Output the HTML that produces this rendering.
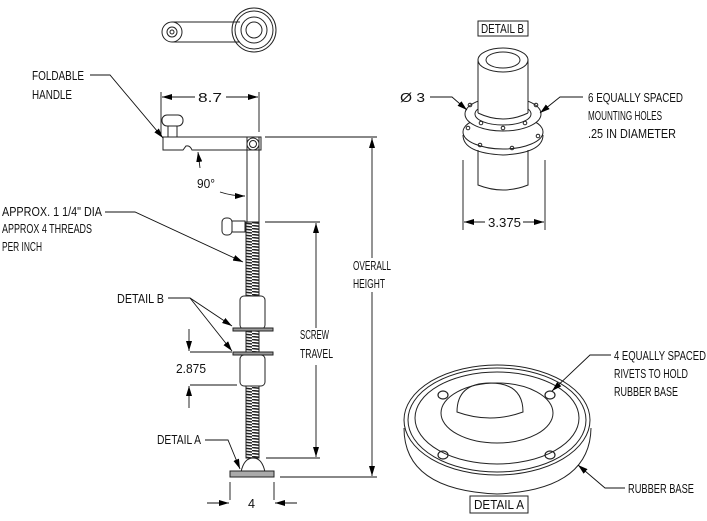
<!DOCTYPE html>
<html><head><meta charset="utf-8"><style>
html,body{margin:0;padding:0;background:#fff;}
svg{display:block;}
text{font-family:"Liberation Sans",sans-serif;font-size:13px;fill:#111;}
</style></head><body>
<svg width="707" height="521" viewBox="0 0 707 521" xmlns="http://www.w3.org/2000/svg">
<defs>
<marker id="a" viewBox="0 0 10 6" refX="10" refY="3" markerWidth="10" markerHeight="6" orient="auto" markerUnits="userSpaceOnUse"><path d="M0,0 L10,3 L0,6 Z" fill="#000"/></marker>
<pattern id="thr" width="14" height="3" patternUnits="userSpaceOnUse"><rect width="14" height="3" fill="#fff"/><line x1="0" y1="0.5" x2="14" y2="2" stroke="#222" stroke-width="1.6"/></pattern>
</defs>
<g fill="none" stroke="#222" stroke-width="1">
<circle cx="172" cy="32" r="10"/><circle cx="172" cy="32" r="5"/><circle cx="172" cy="32" r="2"/>
<line x1="172" y1="22" x2="240" y2="22"/><line x1="172" y1="42" x2="240" y2="42"/>
<circle cx="254" cy="30" r="22"/><circle cx="254" cy="30" r="19"/><circle cx="254" cy="30" r="13"/><circle cx="254" cy="30" r="8"/>
<rect x="162" y="115" width="21" height="11" rx="5"/><rect x="168" y="126" width="9" height="11"/>
<path d="M163,137 L261,137 L261,150 L192,150 Q190,145 186,146 L183,150 L163,150 Z"/>
<rect x="247" y="137" width="12" height="90"/>
<circle cx="253" cy="144" r="6"/><circle cx="253" cy="144" r="3.5"/>
<rect x="222" y="218" width="10" height="17" rx="4"/><rect x="232" y="221" width="13" height="11"/>
<rect x="246" y="222" width="13" height="236" fill="url(#thr)"/>
<rect x="240" y="296" width="25" height="33" rx="4" fill="#fff"/>
<rect x="233" y="328" width="40" height="3" fill="#999"/>
<rect x="233" y="352" width="40" height="3" fill="#999"/>
<rect x="240" y="355" width="25" height="31" rx="4" fill="#fff"/>
<path d="M241,472 Q244,458 253,458 Q262,458 265,472" fill="#fff"/>
<rect x="230" y="471" width="44" height="6" fill="#aaa"/>
</g>
<g fill="none" stroke="#111" stroke-width="0.9">
<line x1="161" y1="92" x2="161" y2="134"/><line x1="259" y1="92" x2="259" y2="132"/>
<line x1="195" y1="97" x2="162" y2="97" marker-end="url(#a)"/><line x1="226" y1="97" x2="258" y2="97" marker-end="url(#a)"/>
<line x1="265" y1="137" x2="377" y2="137"/><line x1="280" y1="477" x2="377" y2="477"/>
<line x1="372" y1="258" x2="372" y2="138" marker-end="url(#a)"/><line x1="372" y1="292" x2="372" y2="476" marker-end="url(#a)"/>
<line x1="265" y1="222" x2="320" y2="222"/><line x1="266" y1="458" x2="320" y2="458"/>
<line x1="316" y1="328" x2="316" y2="223" marker-end="url(#a)"/><line x1="316" y1="365" x2="316" y2="457" marker-end="url(#a)"/>
<line x1="190" y1="352" x2="232" y2="352"/><line x1="190" y1="385" x2="237" y2="385"/>
<line x1="189" y1="329" x2="189" y2="351" marker-end="url(#a)"/><line x1="189" y1="408" x2="189" y2="386" marker-end="url(#a)"/>
<line x1="230" y1="482" x2="230" y2="500"/><line x1="274" y1="482" x2="274" y2="500"/>
<line x1="207" y1="503" x2="229" y2="503" marker-end="url(#a)"/><line x1="297" y1="503" x2="275" y2="503" marker-end="url(#a)"/>
<polyline points="90,75 110,75 163,138" marker-end="url(#a)"/>
<line x1="200" y1="168" x2="198" y2="152" marker-end="url(#a)"/>
<path d="M220,192 Q232,196 245,196" marker-end="url(#a)"/>
<polyline points="105,212 135,212 243,262" marker-end="url(#a)"/>
<polyline points="168,298 190,298 232,326" marker-end="url(#a)"/>
<line x1="190" y1="298" x2="232" y2="351" marker-end="url(#a)"/>
<polyline points="205,440 228,440 240,469" marker-end="url(#a)"/>
</g>
<g fill="none" stroke="#222" stroke-width="1">
<rect x="478" y="21" width="50" height="15"/>
<path d="M463,135 Q463,153 503,155 Q543,153 543,135"/>
<ellipse cx="503" cy="132" rx="40" ry="17" fill="#fff"/>
<ellipse cx="503" cy="114" rx="38" ry="17" fill="#fff"/>
<ellipse cx="503" cy="114" rx="28" ry="11"/>
<rect x="478" y="60" width="50" height="53" fill="#fff" stroke="none"/>
<line x1="478" y1="60" x2="478" y2="113"/><line x1="528" y1="60" x2="528" y2="113"/>
<path d="M478,113 Q503,125 528,113"/>
<ellipse cx="503" cy="60" rx="25" ry="12" fill="#fff"/><ellipse cx="503" cy="60" rx="17" ry="8"/>
<path d="M478,150 L478,185 Q503,195 528,185 L528,150"/>
<circle cx="470" cy="105" r="1.8"/><circle cx="536" cy="105" r="1.8"/><circle cx="481" cy="123" r="1.8"/><circle cx="525" cy="123" r="1.8"/><circle cx="503" cy="128" r="1.8"/><circle cx="468" cy="128" r="1.8"/><circle cx="538" cy="136" r="1.8"/><circle cx="480" cy="145" r="1.8"/><circle cx="512" cy="148" r="1.8"/>
</g>
<g fill="none" stroke="#111" stroke-width="0.9">
<line x1="463" y1="160" x2="463" y2="230"/><line x1="545" y1="160" x2="545" y2="230"/>
<line x1="485" y1="222" x2="464" y2="222" marker-end="url(#a)"/><line x1="523" y1="222" x2="544" y2="222" marker-end="url(#a)"/>
<polyline points="430,97 452,97 467,110" marker-end="url(#a)"/>
<polyline points="583,97 560,97 540,113" marker-end="url(#a)"/>
</g>
<g fill="none" stroke="#222" stroke-width="1">
<path d="M404,428 Q404,490 497,494 Q590,490 591,428"/>
<ellipse cx="497" cy="420" rx="93" ry="55" fill="#fff"/>
<ellipse cx="497" cy="420" rx="89" ry="52"/>
<ellipse cx="497" cy="418" rx="82" ry="46"/>
<ellipse cx="497" cy="413" rx="56" ry="30"/>
<path d="M457,412 Q457,383 490,383 Q523,383 523,412 Q490,424 457,412 Z"/>
<g stroke-width="1.2"><ellipse cx="443" cy="395" rx="5" ry="4"/><ellipse cx="550" cy="395" rx="5" ry="4"/><ellipse cx="443" cy="455" rx="5" ry="4"/><ellipse cx="550" cy="455" rx="5" ry="4"/></g>
<rect x="470" y="496" width="58" height="17"/>
</g>
<g fill="none" stroke="#111" stroke-width="0.9">
<polyline points="611,355 590,355 552,391" marker-end="url(#a)"/>
<polyline points="625,488 605,488 578,465" marker-end="url(#a)"/>
</g>
<g>
<text x="32" y="80" textLength="52" lengthAdjust="spacingAndGlyphs">FOLDABLE</text>
<text x="32" y="99" textLength="40" lengthAdjust="spacingAndGlyphs">HANDLE</text>
<text x="198" y="102" textLength="24" lengthAdjust="spacingAndGlyphs">8.7</text>
<text x="197" y="188" textLength="18" lengthAdjust="spacingAndGlyphs">90°</text>
<text x="2" y="216" textLength="100" lengthAdjust="spacingAndGlyphs">APPROX. 1 1/4" DIA</text>
<text x="2" y="233" textLength="90" lengthAdjust="spacingAndGlyphs">APPROX 4 THREADS</text>
<text x="2" y="251" textLength="40" lengthAdjust="spacingAndGlyphs">PER INCH</text>
<text x="353" y="270" textLength="38" lengthAdjust="spacingAndGlyphs">OVERALL</text>
<text x="353" y="288" textLength="32" lengthAdjust="spacingAndGlyphs">HEIGHT</text>
<text x="300" y="339" textLength="29" lengthAdjust="spacingAndGlyphs">SCREW</text>
<text x="300" y="358" textLength="33" lengthAdjust="spacingAndGlyphs">TRAVEL</text>
<text x="117" y="303" textLength="47" lengthAdjust="spacingAndGlyphs">DETAIL B</text>
<text x="176" y="373" textLength="30" lengthAdjust="spacingAndGlyphs">2.875</text>
<text x="157" y="444" textLength="44" lengthAdjust="spacingAndGlyphs">DETAIL A</text>
<text x="248" y="508" textLength="7" lengthAdjust="spacingAndGlyphs">4</text>
<text x="481" y="33" textLength="43" lengthAdjust="spacingAndGlyphs">DETAIL B</text>
<text x="400" y="102" textLength="25" lengthAdjust="spacingAndGlyphs">Ø 3</text>
<text x="588" y="102" textLength="95" lengthAdjust="spacingAndGlyphs">6 EQUALLY SPACED</text>
<text x="588" y="120" textLength="74" lengthAdjust="spacingAndGlyphs">MOUNTING HOLES</text>
<text x="588" y="138" textLength="88" lengthAdjust="spacingAndGlyphs">.25 IN DIAMETER</text>
<text x="488" y="227" textLength="33" lengthAdjust="spacingAndGlyphs">3.375</text>
<text x="614" y="360" textLength="92" lengthAdjust="spacingAndGlyphs">4 EQUALLY SPACED</text>
<text x="614" y="378" textLength="74" lengthAdjust="spacingAndGlyphs">RIVETS TO HOLD</text>
<text x="614" y="396" textLength="64" lengthAdjust="spacingAndGlyphs">RUBBER BASE</text>
<text x="628" y="493" textLength="66" lengthAdjust="spacingAndGlyphs">RUBBER BASE</text>
<text x="474" y="509" textLength="50" lengthAdjust="spacingAndGlyphs">DETAIL A</text>
</g>
</svg>
</body></html>
